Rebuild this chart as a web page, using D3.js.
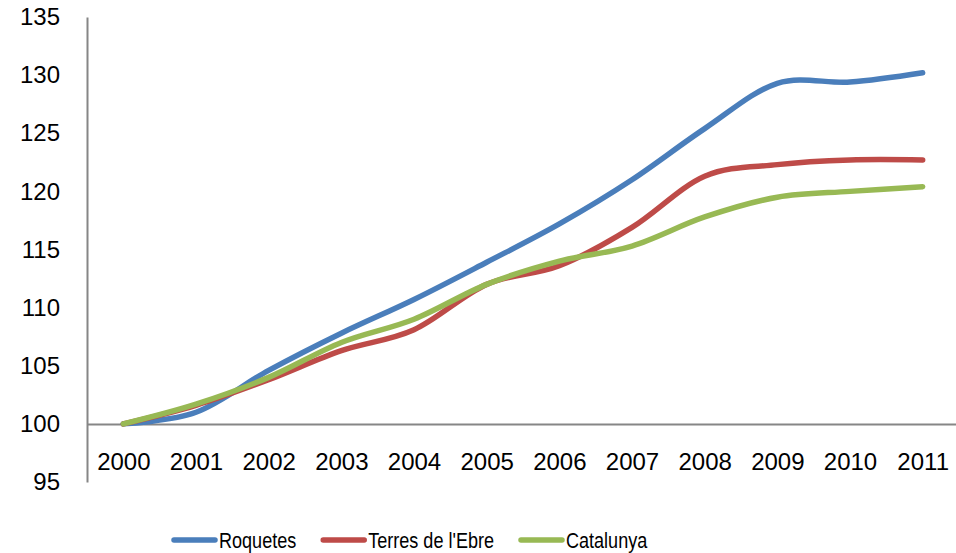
<!DOCTYPE html>
<html>
<head>
<meta charset="utf-8">
<script src="https://cdn.jsdelivr.net/npm/d3@7"></script>
<style>
  body { margin: 0; background: #fff; }
  text { font-family: 'Liberation Sans', Arial, sans-serif; fill: #000; }
</style>
</head>
<body>
<svg></svg>
<script>
let width = 956
let height = 553

let years = ['2000', '2001', '2002', '2003', '2004', '2005', '2006', '2007', '2008', '2009', '2010', '2011']
let roquetes = [100, 101.0, 104.6, 107.8, 110.7, 113.9, 117.2, 121.0, 125.4, 129.3, 129.4, 130.2]
let terresEbre = [100, 101.6, 103.8, 106.3, 108.1, 112.0, 113.6, 116.9, 121.3, 122.3, 122.7, 122.7]
let catalunya = [100, 101.7, 104.0, 107.0, 109.0, 112.0, 114.0, 115.3, 117.8, 119.5, 120.0, 120.4]
let yTicks = [95, 100, 105, 110, 115, 120, 125, 130, 135]

let series = [
  { name: 'Roquetes', values: roquetes, color: '#4a7ebb' },
  { name: "Terres de l'Ebre", values: terresEbre, color: '#be4b48' },
  { name: 'Catalunya', values: catalunya, color: '#98b954' }
]

let svg = d3.select('svg')
    .attr('width', width)
    .attr('height', height)

let x = d3.scalePoint()
          .domain(years)
          .range([87, 959])
          .padding(0.5)

let y = d3.scaleLinear()
          .domain([95, 135])
          .range([482, 17])

// y axis
let yAxis = svg.append('g')
    .attr('transform', 'translate(87, 0)')
    .call(d3.axisLeft(y).tickValues(yTicks).tickSize(0).tickPadding(27))

yAxis.select('.domain').attr('stroke', '#868686').attr('stroke-width', 2)
yAxis.selectAll('text').attr('font-size', 24).attr('font-family', null)

// x axis crosses at 100
let xAxis = svg.append('g')
    .attr('transform', `translate(0, ${y(100)})`)
    .call(d3.axisBottom(x).tickSize(0).tickPadding(29).tickSizeOuter(0))

xAxis.select('.domain').attr('stroke', '#868686').attr('stroke-width', 2)
xAxis.selectAll('text').attr('font-size', 24).attr('font-family', null)

let line = d3.line()
              .x((d, i) => x(years[i]))
              .y(d => y(d))
              .curve(d3.curveCardinal.tension(0))

svg.append('g')
  .selectAll('path')
  .data(series)
  .enter()
  .append('path')
    .attr('fill', 'none')
    .attr('stroke', d => d.color)
    .attr('stroke-width', 5.5)
    .attr('stroke-linecap', 'round')
    .attr('stroke-linejoin', 'round')
    .attr('d', d => line(d.values))

// legend (text condensed a bit, like the original font)
let legend = svg.append('g').attr('transform', 'translate(0, 540)')
let lx = 174
series.forEach(s => {
  legend.append('line')
    .attr('x1', lx).attr('x2', lx + 41)
    .attr('y1', 0).attr('y2', 0)
    .attr('stroke', s.color)
    .attr('stroke-width', 5.5)
    .attr('stroke-linecap', 'round')
  let t = legend.append('text')
    .attr('x', lx + 45)
    .attr('dy', '0.36em')
    .attr('font-size', 22)
    .text(s.name)
  let w = t.node().getComputedTextLength() * 0.82
  t.attr('textLength', w).attr('lengthAdjust', 'spacingAndGlyphs')
  lx += 45 + w + 27
})
</script>
</body>
</html>
